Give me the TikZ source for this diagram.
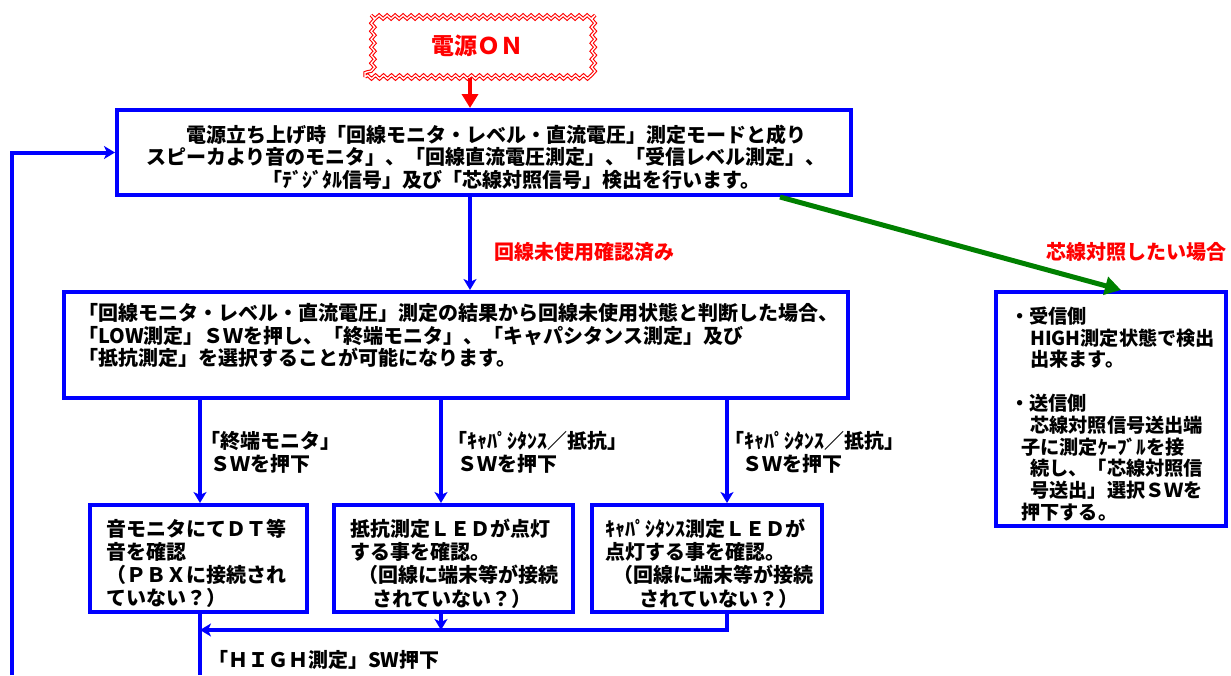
\documentclass[tikz,border=0pt]{standalone}
\usepackage{fontspec}
\setmainfont{Noto Sans CJK JP}
\usetikzlibrary{arrows.meta,decorations.pathmorphing}
\newcommand\jpf{\bfseries\fontsize{20}{22.5}\selectfont}
\newcommand\jpfb{\bfseries\fontsize{20}{23.3}\selectfont}
\newcommand\jpfr{\bfseries\fontsize{19.2}{21.8}\selectfont}
\definecolor{flowblue}{RGB}{0,0,255}
\definecolor{flowgreen}{RGB}{0,128,0}
\tikzset{
  box/.style={draw=flowblue, line width=4pt, inner sep=0pt, fill=white},
  txt/.style={align=left, inner sep=0pt, anchor=north west, font=\jpf},
  flow/.style={draw=flowblue, line width=4pt, -{Stealth[length=11pt,width=13pt,inset=3pt]}},
  plain/.style={draw=flowblue, line width=4pt},
  redflow/.style={draw=red, line width=4pt, -{Triangle[length=14pt,width=16pt]}},
  greenflow/.style={draw=flowgreen, line width=5pt, -{Triangle[length=16pt,width=18pt]}},
  redlbl/.style={inner sep=0pt, anchor=west, text=red, font=\jpf},
  wavy/.style={draw=red, line width=1.1pt, double=white, double distance=1.3pt,
    decorate, decoration={snake, amplitude=1.8pt, segment length=8pt},
    text=red, font=\bfseries\fontsize{23}{26}\selectfont},
}
\begin{document}
\begin{tikzpicture}[x=1pt,y=-1pt]
\useasboundingbox (0,0) rectangle (1231,675);
% nodes
\node[wavy, minimum width=224pt, minimum height=62pt] (on) at (477,46) {電源ＯＮ};
\node[box, minimum width=734pt, minimum height=85pt] (b1) at (484,152.5) {};
\node[txt] (t1) at (146,124.5) {\hspace*{40pt}電源立ち上げ時「回線モニタ・レベル・直流電圧」測定モードと成り\\
スピーカより音のモニタ」、「回線直流電圧測定」、「受信レベル測定」、\\
\hspace*{116pt}「ﾃﾞｼﾞﾀﾙ信号」及び「芯線対照信号」検出を行います。};
\node[box, minimum width=784pt, minimum height=106pt] (b2) at (456,345) {};
\node[txt] (t2) at (78,303.5) {「回線モニタ・レベル・直流電圧」測定の結果から回線未使用状態と判断した場合、\\
「LOW測定」ＳＷを押し、「終端モニタ」、「キャパシタンス測定」及び\\
「抵抗測定」を選択することが可能になります。};
\node[box, minimum width=230pt, minimum height=234pt] (b3) at (1111,409) {};
\node[txt, font=\jpfr] (t3) at (1010,306.5) {・受信側\\
\hspace*{20pt}HIGH測定状態で検出\\
\hspace*{20pt}出来ます。\\[21.8pt]
・送信側\\
\hspace*{20pt}芯線対照信号送出端\\
\hspace*{11pt}子に測定ｹｰﾌﾞﾙを接\\
\hspace*{20pt}続し、「芯線対照信\\
\hspace*{20pt}号送出」選択ＳＷを\\
\hspace*{11pt}押下する。};
\node[box, minimum width=217pt, minimum height=107pt] (bA) at (198.5,558.5) {};
\node[txt, font=\jpfb] (tA) at (106,518.5) {音モニタにてＤＴ等\\
音を確認\\
（ＰＢＸに接続され\\
ていない？）};
\node[box, minimum width=239pt, minimum height=107pt] (bB) at (453.5,558.5) {};
\node[txt, font=\jpfb] (tB) at (350,518.5) {抵抗測定ＬＥＤが点灯\\
する事を確認。\\
\hspace*{8pt}（回線に端末等が接続\\
\hspace*{22pt}されていない？）};
\node[box, minimum width=230pt, minimum height=107pt] (bC) at (707,558.5) {};
\node[txt, font=\jpfb] (tC) at (605,518.5) {ｷｬﾊﾟｼﾀﾝｽ測定ＬＥＤが\\
点灯する事を確認。\\
\hspace*{8pt}（回線に端末等が接続\\
\hspace*{34pt}されていない？）};
% labels
\node[redlbl] (l1) at (494,252) {回線未使用確認済み};
\node[redlbl] (l2) at (1046,252) {芯線対照したい場合};
\node[txt] (l3) at (200,431.5) {「終端モニタ」\\\hspace*{10pt}ＳＷを押下};
\node[txt] (l4) at (447,431.5) {「ｷｬﾊﾟｼﾀﾝｽ／抵抗」\\\hspace*{10pt}ＳＷを押下};
\node[txt] (l5) at (724,431.5) {「ｷｬﾊﾟｼﾀﾝｽ／抵抗」\\\hspace*{18pt}ＳＷを押下};
\node[txt] (l6) at (208,650.5) {「ＨＩＧＨ測定」SW押下};
% coordinates
\coordinate (xm) at (470,0);
\coordinate (xA) at (200,0);
\coordinate (xB) at (441,0);
\coordinate (xC) at (727,0);
\coordinate (g1) at (780,0);
\coordinate (g2) at (1121,0);
\coordinate (merge) at (200,630);
\coordinate (bottomA) at (200,675);
\coordinate (loop) at (12,675);
% connectors
\draw[redflow] (on.south -| xm) -- (b1.north -| xm);
\draw[flow] (b1.south -| xm) -- (b2.north -| xm);
\draw[greenflow] (b1.south -| g1) -- (b3.north -| g2);
\draw[flow] (b2.south -| xA) -- (bA.north -| xA);
\draw[flow] (b2.south -| xB) -- (bB.north -| xB);
\draw[flow] (b2.south -| xC) -- (bC.north -| xC);
\draw[plain] (bA.south -| xA) -- (bottomA);
\draw[flow] (bB.south -| xB) -- (merge -| xB);
\draw[flow] (bC.south -| xC) |- (merge);
\draw[flow] (loop) |- (b1.west);
\end{tikzpicture}
\end{document}
